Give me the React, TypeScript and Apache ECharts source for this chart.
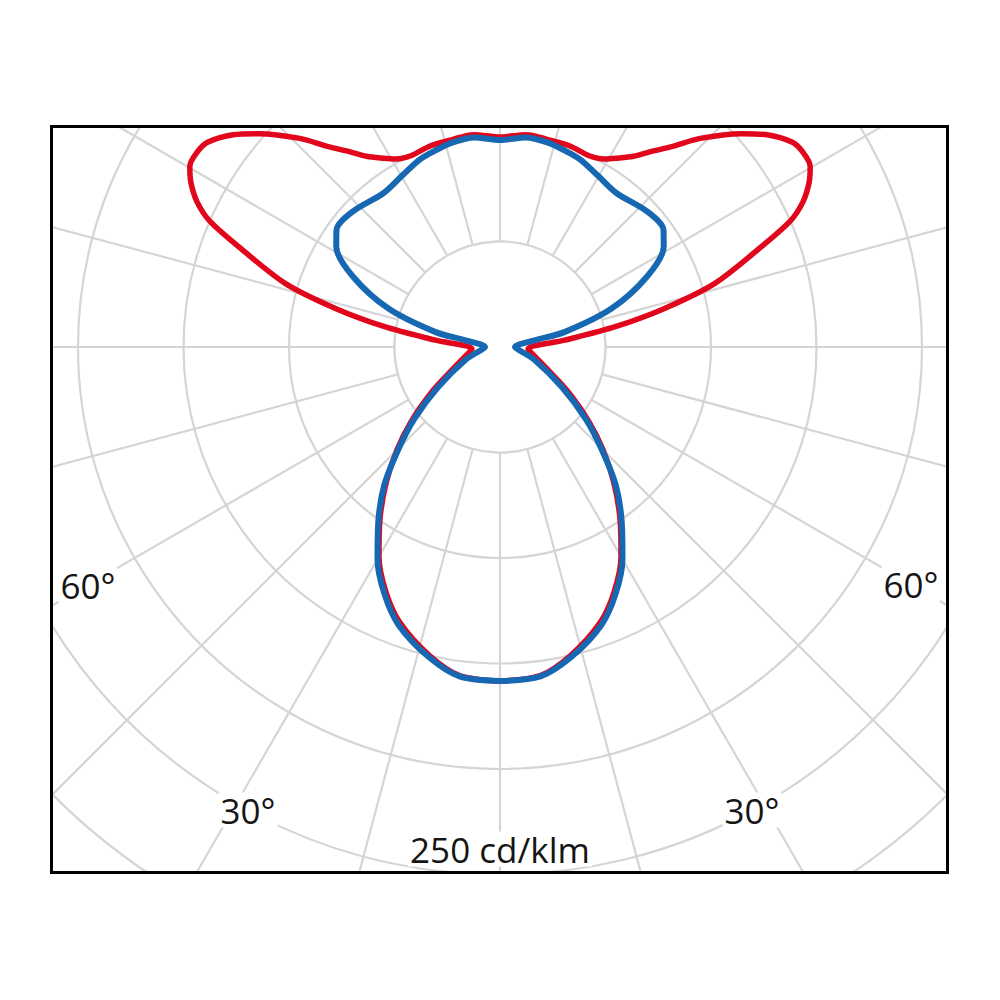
import React, { useEffect, useRef } from "react";
import * as echarts from "echarts";

// Scale: one grid circle = 50 cd/klm, six circles drawn
const GRID_STEP = 50;
const RADIUS_MAX = 300;
const SPOKE_STEP = 15;

// Red curve (C0/C180 plane): gamma (deg from nadir) and intensity (cd/klm)
const redGamma = [0, 7, 13, 20, 25, 30, 35, 40, 45, 50, 57, 65, 75, 86, 96, 100, 103.2, 106.5, 111, 113.5, 115.6, 118, 120.2, 123, 125, 128.5, 131.5, 136.2, 139.4, 142.5, 145, 148.3, 151, 155, 161, 167, 173, 180];
const redValues = [158.3, 156.9, 149.8, 138.9, 128.0, 114.7, 99.1, 83.9, 69.2, 55.0, 37.9, 24.6, 17.1, 13.3, 30.8, 55.5, 80.1, 106.2, 132.7, 150.2, 159.2, 165.9, 170.1, 170.6, 169.2, 161.6, 152.6, 137.0, 125.1, 116.6, 110.4, 105.2, 101.9, 100.0, 100.9, 100.9, 101.4, 99.5];

// Blue curve (C90/C270 plane)
const blueGamma = [0, 7, 13, 20, 25, 30, 35, 40, 45, 50, 57, 70, 80, 90, 101, 103, 109, 115.6, 121.5, 125.6, 132.7, 142.8, 150, 157, 162, 167, 173, 180];
const blueValues = [158.3, 157.3, 150.7, 140.3, 129.4, 116.1, 100.5, 85.3, 67.8, 53.1, 35.1, 17.1, 9.5, 7.1, 16.6, 31.3, 55.9, 77.3, 91.0, 95.3, 94.8, 91.5, 93.4, 96.7, 98.1, 99.5, 100.0, 98.1];

const angleLabelText = ["60°", "30°"];
const scaleLabelText = "250 cd/klm";

const RED = "#e1061b";
const BLUE = "#1768b2";
const GRID = "#d5d5d5";

// Build a closed loop: left half (angle = gamma), then right half (angle = 360 - gamma)
function buildLoop(gammas: number[], values: number[]) {
  const left = gammas.map((g, i) => [values[i], g]);
  const right: number[][] = [];
  for (let i = gammas.length - 2; i >= 0; i--) {
    right.push([values[i], 360 - gammas[i]]);
  }
  return left.concat(right);
}

const CX = 500;
const CY = 347;
const PX_PER_STEP = 105.5;

export default function App() {
  const ref = useRef<HTMLDivElement>(null);

  useEffect(() => {
    if (!ref.current) return;
    const chart = echarts.init(ref.current, undefined, { renderer: "svg" });
    const font = '"Open Sans", sans-serif';
    const textStyle = (text: string, x: number, y: number) => ({
      type: "text",
      z: 8,
      x,
      y,
      style: {
        text,
        fontFamily: font,
        fontSize: 35,
        fill: "#151515",
        textAlign: "center",
        textVerticalAlign: "middle",
        align: "center",
        verticalAlign: "middle",
        backgroundColor: "#fff",
        padding: [0, 2],
      },
    });
    chart.setOption({
      animation: false,
      backgroundColor: "#fff",
      polar: {
        center: [CX, CY],
        radius: PX_PER_STEP * (RADIUS_MAX / GRID_STEP),
      },
      radiusAxis: {
        type: "value",
        min: 0,
        max: RADIUS_MAX,
        interval: GRID_STEP,
        axisLine: { show: false },
        axisTick: { show: false },
        axisLabel: { show: false },
        splitLine: { show: true, lineStyle: { color: GRID, width: 2.2 } },
      },
      angleAxis: {
        type: "value",
        min: 0,
        max: 360,
        interval: SPOKE_STEP,
        startAngle: 270,
        clockwise: true,
        axisLine: { show: false },
        axisTick: { show: false },
        axisLabel: { show: false },
        splitLine: { show: true, lineStyle: { color: GRID, width: 2.2 } },
      },
      series: [
        {
          type: "line",
          coordinateSystem: "polar",
          data: buildLoop(redGamma, redValues),
          symbol: "none",
          showSymbol: false,
          silent: true,
          smooth: 0.3,
          z: 3,
          lineStyle: { color: RED, width: 5.5, join: "round" },
        },
        {
          type: "line",
          coordinateSystem: "polar",
          data: buildLoop(blueGamma, blueValues),
          symbol: "none",
          showSymbol: false,
          silent: true,
          smooth: 0.3,
          z: 4,
          lineStyle: { color: BLUE, width: 6, join: "round" },
        },
      ],
      graphic: {
        elements: [
          {
            type: "circle",
            z: 1,
            shape: { cx: CX, cy: CY, r: PX_PER_STEP },
            style: { fill: "#fff", stroke: GRID, lineWidth: 2.2 },
          },
          { type: "rect", z: 6, shape: { x: 0, y: 0, width: 1000, height: 126 }, style: { fill: "#fff" } },
          { type: "rect", z: 6, shape: { x: 0, y: 873, width: 1000, height: 127 }, style: { fill: "#fff" } },
          { type: "rect", z: 6, shape: { x: 0, y: 0, width: 51, height: 1000 }, style: { fill: "#fff" } },
          { type: "rect", z: 6, shape: { x: 949, y: 0, width: 51, height: 1000 }, style: { fill: "#fff" } },
          {
            type: "rect",
            z: 10,
            shape: { x: 51.5, y: 126.5, width: 896, height: 746 },
            style: { fill: "none", stroke: "#000", lineWidth: 3 },
          },
          textStyle(angleLabelText[0], 88, 585),
          textStyle(angleLabelText[0], 911, 584),
          textStyle(angleLabelText[1], 248, 810),
          textStyle(angleLabelText[1], 752, 810),
          textStyle(scaleLabelText, 500, 849),
        ],
      },
    });
    return () => chart.dispose();
  }, []);

  return (
    <div
      ref={ref}
      style={{ position: "fixed", left: 0, top: 0, width: 1000, height: 1000, background: "#fff" }}
    />
  );
}
